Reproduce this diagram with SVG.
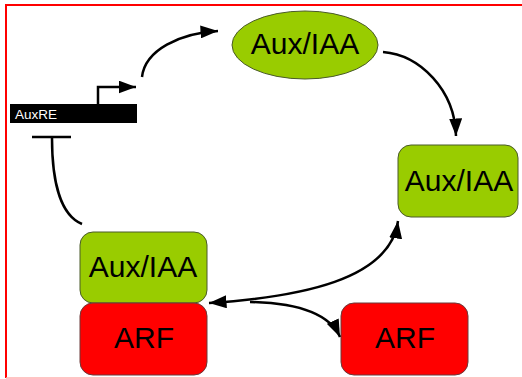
<svg xmlns="http://www.w3.org/2000/svg" width="522" height="379" viewBox="0 0 522 379">
<defs>
<style>
.green{fill:#99cc00;stroke:#4a5a2a;stroke-width:1}
.red{fill:#ff0000;stroke:#6a3a3a;stroke-width:1}
.lbl{font-family:"Liberation Sans",Arial,sans-serif;font-size:30px;fill:#000;text-anchor:middle}
.conn{fill:none;stroke:#000;stroke-width:2.5}
</style>
<marker id="ah" viewBox="0 0 10 10" refX="10" refY="5" markerWidth="7" markerHeight="5.2" markerUnits="strokeWidth" orient="auto-start-reverse" preserveAspectRatio="none">
<path d="M0,0 L10,5 L0,10 Z" fill="#000"/>
</marker>
</defs>
<rect width="522" height="379" fill="#fff"/>
<g id="frame">
<line x1="6" y1="5" x2="522" y2="5" stroke="#ff0000" stroke-width="2"/>
<line x1="6" y1="4" x2="6" y2="378" stroke="#ff0000" stroke-width="2"/>
<line x1="6" y1="378" x2="522" y2="378" stroke="#ffb0b0" stroke-width="1.5"/>
</g>
<g id="auxre">
<rect x="10" y="104" width="127" height="19" fill="#000"/>
<text x="15" y="119" font-family="Liberation Sans,Arial,sans-serif" font-size="13.5" fill="#fff">AuxRE</text>
</g>
<g id="auxiaa-top">
<ellipse class="green" cx="305" cy="45" rx="73" ry="34"/>
<text class="lbl" x="305" y="54">Aux/IAA</text>
</g>
<g id="auxiaa-right">
<rect class="green" x="398" y="145" width="120" height="72" rx="13"/>
<text class="lbl" x="459" y="191">Aux/IAA</text>
</g>
<g id="auxiaa-left">
<rect class="green" x="80" y="232" width="127" height="71" rx="13"/>
<text class="lbl" x="143" y="277">Aux/IAA</text>
</g>
<g id="arf-left">
<rect class="red" x="80" y="303" width="127" height="72" rx="13"/>
<text class="lbl" x="144" y="348">ARF</text>
</g>
<g id="arf-right">
<rect class="red" x="341" y="303" width="127" height="72" rx="13"/>
<text class="lbl" x="405" y="348">ARF</text>
</g>
<g id="connectors">
<path class="conn" d="M98,104 V87 H136" marker-end="url(#ah)"/>
<path class="conn" d="M142,77 C145,50 180,33 218,31" marker-end="url(#ah)"/>
<path class="conn" d="M383,52 C420,55 455,90 456,136" marker-end="url(#ah)"/>
<path class="conn" d="M209,303 C300,297 390,280 398,221" marker-start="url(#ah)" marker-end="url(#ah)"/>
<path class="conn" d="M250,302 C300,303 330,315 340,337" marker-end="url(#ah)"/>
<path class="conn" d="M82,224 C60,215 52,180 52,138"/>
<line class="conn" x1="32" y1="137" x2="71" y2="137"/>
</g>
</svg>
